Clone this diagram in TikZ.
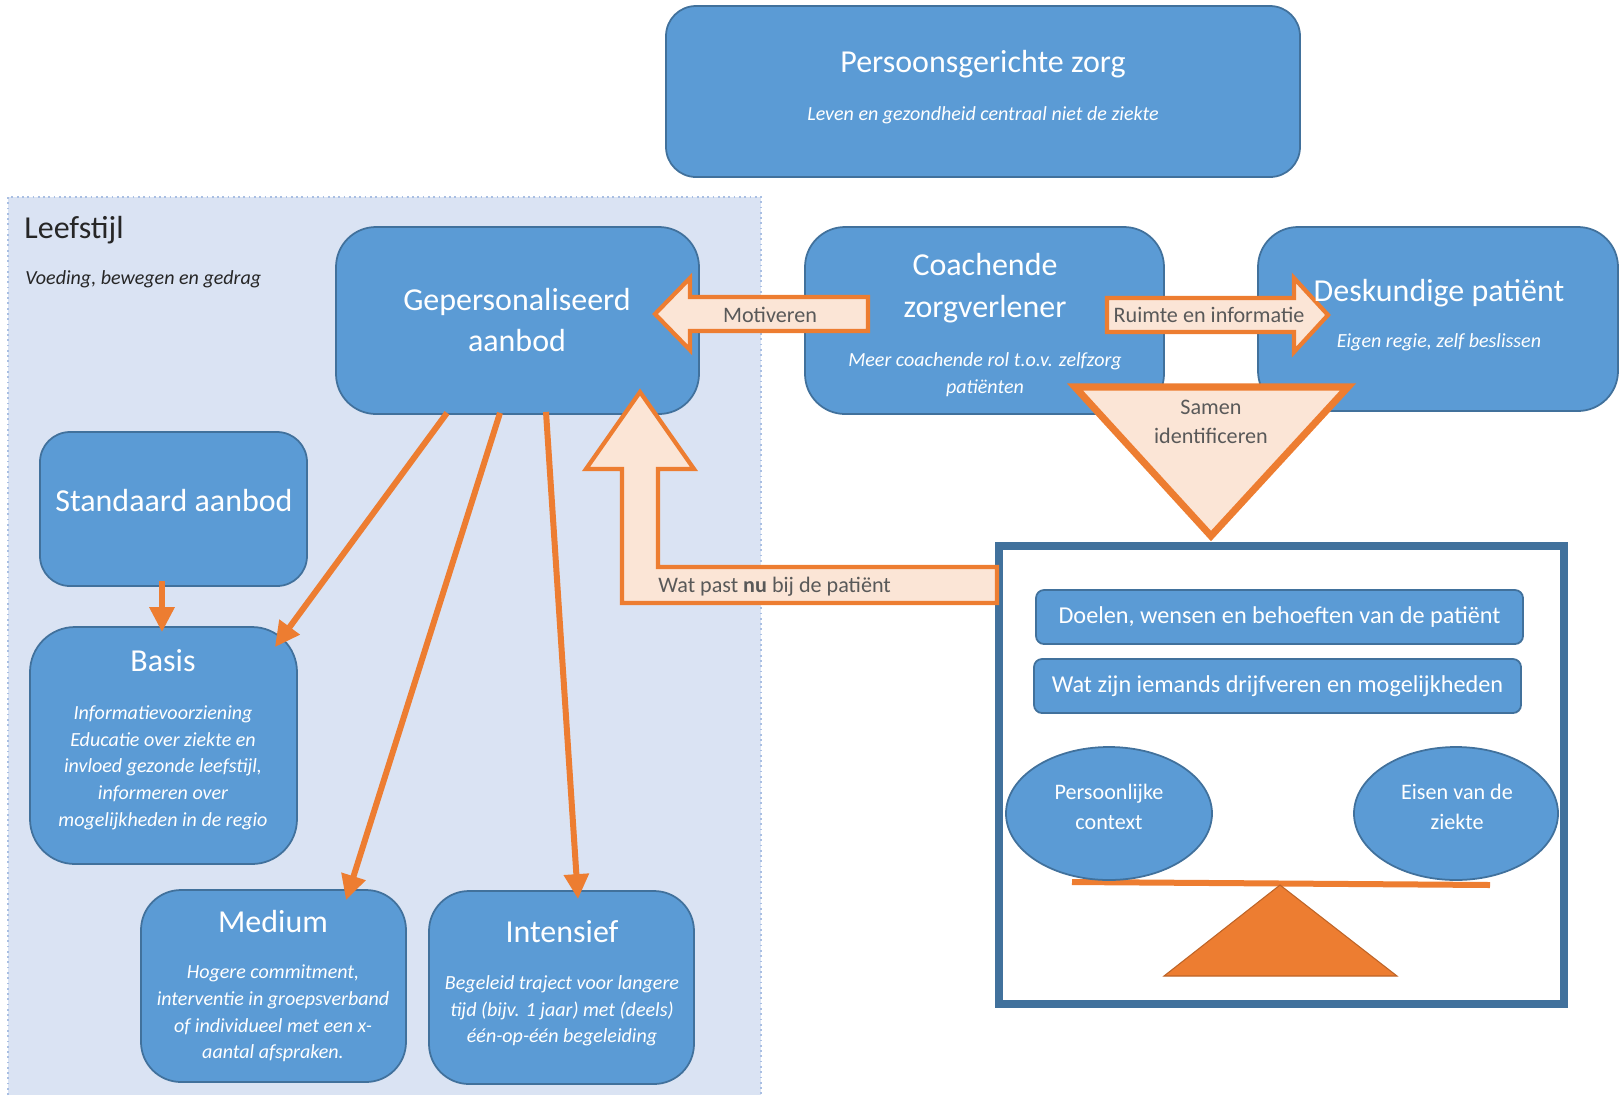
\documentclass[tikz,border=0pt]{standalone}
\usepackage{fontspec}
\setmainfont{Carlito}
\usetikzlibrary{calc,arrows.meta,shapes.geometric}

\definecolor{boxblue}{HTML}{5B9BD5}
\definecolor{boxline}{HTML}{41719C}
\definecolor{panelblue}{HTML}{DAE3F3}
\definecolor{paneldots}{HTML}{A9BFE3}
\definecolor{accent}{HTML}{ED7D31}
\definecolor{peach}{HTML}{FBE5D6}
\definecolor{tagtext}{HTML}{595959}
\definecolor{darktext}{HTML}{262626}

\tikzset{
    card/.style={draw=boxline, fill=boxblue, line width=0.5pt, rounded corners=4mm, inner sep=0pt},
    heading/.style={text=white, font=\fontsize{9.1}{11.9}\selectfont, align=center},
    blurb/.style={text=white, font=\fontsize{5.7}{7.6}\selectfont\itshape, align=center},
    tagline/.style={text=tagtext, font=\fontsize{6.3}{8.4}\selectfont, align=center},
    blockarrow/.style={draw=accent, fill=peach, line width=1.2pt},
    pointer/.style={accent, line width=0.6mm, -{Triangle[length=2.5mm, width=2.4mm]}},
}

\begin{document}
\begin{tikzpicture}[x=0.1mm, y=-0.1mm]

    \useasboundingbox (0, 0) rectangle (1620, 1095);

    \fill[panelblue] (8, 197) rectangle (761, 1095);
    \draw[paneldots, densely dotted, line width=0.5pt] (8, 1095) -- (8, 197) -- (761, 197) -- (761, 1095);

    \draw[boxline, line width=0.8mm, fill=white] (999, 546) rectangle (1564, 1004);

    \node[card, rounded corners=3mm, minimum width=63.4mm, minimum height=17.1mm] (zorg) at (983, 91.5) {};
    \node[card, minimum width=36.3mm, minimum height=18.7mm] (aanbod) at (517.5, 320.5) {};
    \node[card, minimum width=35.9mm, minimum height=18.7mm] (coach) at (984.5, 320.5) {};
    \node[card, minimum width=36mm, minimum height=18.4mm] (deskundig) at (1438, 319) {};
    \node[card, rounded corners=3mm, minimum width=26.7mm, minimum height=15.4mm] (standaard) at (173.5, 509) {};
    \node[card, rounded corners=4.5mm, minimum width=26.7mm, minimum height=23.7mm] (basis) at (163.5, 745.5) {};
    \node[card, minimum width=26.5mm, minimum height=19.2mm] (medium) at (273.5, 986) {};
    \node[card, minimum width=26.5mm, minimum height=19.3mm] (intensief) at (561.5, 987.5) {};

    \node[card, rounded corners=0.8mm, minimum width=48.7mm, minimum height=5.4mm, text=white, font=\fontsize{6.9}{8}\selectfont] (doelen) at (1279.5, 617) {Doelen, wensen en behoeften van de patiënt};
    \node[card, rounded corners=0.8mm, minimum width=48.7mm, minimum height=5.4mm, text=white, font=\fontsize{6.9}{8}\selectfont] (drijfveren) at (1277.5, 686) {Wat zijn iemands drijfveren en mogelijkheden};

    \draw[accent, line width=0.6mm] (1072, 882) -- (1490, 885);
    \filldraw[fill=accent, draw=accent!80!black, line width=0.3pt] (1280, 885) -- (1397, 976) -- (1164, 976) -- cycle;

    \node[card, ellipse, minimum width=20.6mm, minimum height=13.3mm] (context) at (1109, 813.5) {};
    \node[card, ellipse, minimum width=20.4mm, minimum height=13.3mm] (eisen) at (1456, 813.5) {};

    \draw[blockarrow] (655, 314) -- (690, 278) -- (690, 297) -- (868, 297) -- (868, 331) -- (690, 331) -- (690, 350) -- cycle;
    \draw[blockarrow] (1328, 315) -- (1294, 278) -- (1294, 298) -- (1107, 298) -- (1107, 332) -- (1294, 332) -- (1294, 352) -- cycle;
    \draw[blockarrow] (640, 392) -- (694, 469) -- (658, 469) -- (658, 567) -- (997, 567) -- (997, 603) -- (622, 603) -- (622, 469) -- (586, 469) -- cycle;
    \draw[blockarrow, line width=2pt] (1075, 387) -- (1348, 387) -- (1211, 536) -- cycle;

    \draw[pointer] ($(standaard.south)+(-11.5, -6)$) -- ($(basis.north)+(-1.5, 6)$);
    \draw[pointer] ($(aanbod.south)+(-70.5, -2)$) -- ($(basis.north east)+(-23, 21)$);
    \draw[pointer] ($(aanbod.south)+(-17.5, -2)$) -- ($(medium.north)+(72.5, 11)$);
    \draw[pointer] ($(aanbod.south)+(28.5, -3)$) -- ($(intensief.north)+(16.5, 9)$);

    \node[heading] (zorg-kop) at (983, 64) {Persoonsgerichte zorg};
    \node[blurb] (zorg-sub) at (983, 115.5) {Leven en gezondheid centraal niet de ziekte};

    \node[heading, text=darktext, anchor=west] (leefstijl) at (12, 230) {Leefstijl};
    \node[blurb, text=darktext, anchor=west] (leefstijl-sub) at (13, 279) {Voeding, bewegen en gedrag};

    \node[heading] (aanbod-kop) at (517, 320) {Gepersonaliseerd\\aanbod};

    \node[heading] (coach-kop) at (985, 288) {Coachende\\zorgverlener};
    \node[blurb] (coach-sub) at (985, 375) {Meer coachende rol t.o.v. zelfzorg\\patiënten};

    \node[heading] (deskundig-kop) at (1439, 293) {Deskundige patiënt};
    \node[blurb] (deskundig-sub) at (1439, 342) {Eigen regie, zelf beslissen};

    \node[heading] (standaard-kop) at (174, 500) {Standaard aanbod};

    \node[heading] (basis-kop) at (163, 661) {Basis};
    \node[blurb] (basis-sub) at (163, 767.5) {Informatievoorziening\\Educatie over ziekte en\\invloed gezonde leefstijl,\\informeren over\\mogelijkheden in de regio};

    \node[heading] (medium-kop) at (273, 921) {Medium};
    \node[blurb] (medium-sub) at (273, 1013.5) {Hogere commitment,\\interventie in groepsverband\\of individueel met een x-\\aantal afspraken.};

    \node[heading] (intensief-kop) at (562, 932) {Intensief};
    \node[blurb] (intensief-sub) at (562, 1011) {Begeleid traject voor langere\\tijd (bijv. 1 jaar) met (deels)\\één-op-één begeleiding};

    \node[tagline, text=white, font=\fontsize{6.3}{8.5}\selectfont] (context-t) at (1109, 807) {Persoonlijke\\context};
    \node[tagline, text=white, font=\fontsize{6.3}{8.5}\selectfont] (eisen-t) at (1457, 807) {Eisen van de\\ziekte};

    \node[tagline] (motiveren) at (770, 315) {Motiveren};
    \node[tagline] (ruimte) at (1209, 315) {Ruimte en informatie};
    \node[tagline] (samen) at (1211, 422) {Samen\\identificeren};
    \node[tagline, anchor=west] (nu) at (646, 587) {Wat past \textbf{nu} bij de patiënt};

\end{tikzpicture}
\end{document}
